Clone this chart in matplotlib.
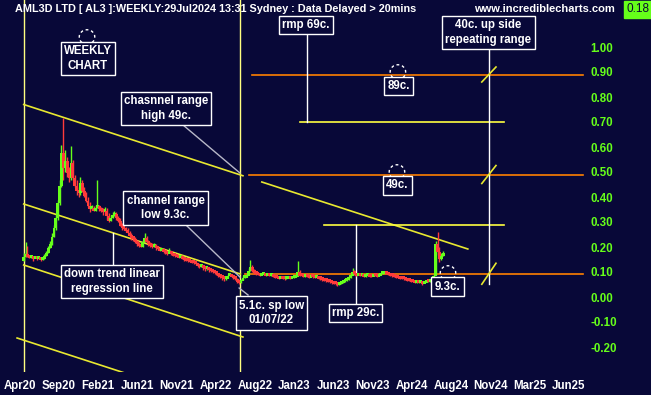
import numpy as np
import matplotlib
matplotlib.use("Agg")
import matplotlib.pyplot as plt
from matplotlib.patches import Ellipse

plt.rcParams['font.family'] = ['Liberation Sans', 'DejaVu Sans']

# AML3D (AL3) semanal, primera barra = semana del 20 abr 2020
first_open = 0.15
close = [0.165, 0.17, 0.165, 0.16, 0.162, 0.158, 0.16, 0.155, 0.157, 0.152,
         0.156, 0.168, 0.18, 0.2, 0.215, 0.245, 0.28, 0.32, 0.38, 0.45,
         0.58, 0.52, 0.55, 0.5, 0.48, 0.54, 0.48, 0.45, 0.43, 0.42,
         0.46, 0.43, 0.41, 0.39, 0.37, 0.355, 0.36, 0.35, 0.36, 0.365,
         0.355, 0.35, 0.345, 0.35, 0.33, 0.31, 0.32, 0.33, 0.335, 0.32,
         0.31, 0.29, 0.28, 0.275, 0.27, 0.26, 0.25, 0.24, 0.235, 0.225,
         0.215, 0.21, 0.205, 0.225, 0.24, 0.225, 0.215, 0.21, 0.205, 0.21,
         0.2, 0.195, 0.19, 0.192, 0.185, 0.18, 0.178, 0.182, 0.175, 0.17,
         0.168, 0.165, 0.16, 0.165, 0.158, 0.152, 0.15, 0.148, 0.145, 0.142,
         0.14, 0.135, 0.13, 0.125, 0.128, 0.12, 0.115, 0.118, 0.112, 0.108,
         0.104, 0.1, 0.095, 0.09, 0.085, 0.08, 0.075, 0.078, 0.088, 0.092,
         0.085, 0.08, 0.075, 0.065, 0.06, 0.07, 0.08, 0.082, 0.09, 0.11,
         0.125, 0.11, 0.1, 0.095, 0.092, 0.09, 0.093, 0.095, 0.09, 0.092,
         0.088, 0.09, 0.085, 0.082, 0.08, 0.078, 0.08, 0.078, 0.075, 0.078,
         0.08, 0.078, 0.08, 0.082, 0.085, 0.105, 0.09, 0.088, 0.085, 0.088,
         0.085, 0.082, 0.085, 0.083, 0.08, 0.082, 0.078, 0.075, 0.072, 0.07,
         0.068, 0.066, 0.063, 0.06, 0.058, 0.055, 0.052, 0.056, 0.06, 0.065,
         0.068, 0.072, 0.08, 0.09, 0.105, 0.095, 0.09, 0.092, 0.088, 0.09,
         0.085, 0.088, 0.09, 0.086, 0.085, 0.09, 0.088, 0.085, 0.09, 0.095,
         0.098, 0.1, 0.096, 0.093, 0.09, 0.087, 0.085, 0.082, 0.08, 0.078,
         0.077, 0.075, 0.072, 0.07, 0.068, 0.066, 0.065, 0.062, 0.064, 0.06,
         0.062, 0.058, 0.062, 0.065, 0.063, 0.068, 0.072, 0.09, 0.215, 0.185,
         0.155, 0.17, 0.18]
high = [0.175, 0.22, 0.205, 0.17, 0.168, 0.166, 0.165, 0.164, 0.162, 0.16,
        0.16, 0.172, 0.185, 0.205, 0.225, 0.255, 0.29, 0.33, 0.39, 0.47,
        0.61, 0.716, 0.59, 0.56, 0.52, 0.605, 0.55, 0.49, 0.47, 0.44,
        0.48, 0.47, 0.44, 0.42, 0.4, 0.38, 0.37, 0.365, 0.37, 0.47,
        0.37, 0.36, 0.355, 0.36, 0.355, 0.335, 0.33, 0.34, 0.345, 0.34,
        0.325, 0.315, 0.295, 0.285, 0.28, 0.275, 0.265, 0.255, 0.245, 0.24,
        0.23, 0.22, 0.215, 0.23, 0.255, 0.245, 0.23, 0.22, 0.215, 0.215,
        0.212, 0.205, 0.2, 0.197, 0.195, 0.19, 0.183, 0.195, 0.185, 0.178,
        0.174, 0.17, 0.168, 0.17, 0.168, 0.16, 0.156, 0.153, 0.15, 0.148,
        0.145, 0.143, 0.138, 0.133, 0.132, 0.13, 0.123, 0.122, 0.12, 0.115,
        0.11, 0.106, 0.102, 0.097, 0.092, 0.087, 0.082, 0.082, 0.092, 0.097,
        0.094, 0.087, 0.082, 0.077, 0.068, 0.073, 0.083, 0.086, 0.095, 0.115,
        0.148, 0.13, 0.112, 0.102, 0.097, 0.094, 0.096, 0.098, 0.096, 0.094,
        0.093, 0.093, 0.091, 0.087, 0.084, 0.082, 0.082, 0.081, 0.08, 0.08,
        0.082, 0.081, 0.082, 0.084, 0.088, 0.145, 0.107, 0.092, 0.09, 0.09,
        0.089, 0.087, 0.088, 0.086, 0.085, 0.084, 0.083, 0.08, 0.077, 0.074,
        0.072, 0.07, 0.068, 0.065, 0.062, 0.06, 0.057, 0.058, 0.062, 0.067,
        0.07, 0.074, 0.083, 0.095, 0.116, 0.107, 0.097, 0.095, 0.093, 0.092,
        0.091, 0.09, 0.092, 0.091, 0.088, 0.092, 0.091, 0.089, 0.092, 0.097,
        0.1, 0.103, 0.101, 0.097, 0.094, 0.091, 0.088, 0.086, 0.083, 0.081,
        0.079, 0.078, 0.076, 0.073, 0.071, 0.069, 0.067, 0.066, 0.066, 0.065,
        0.064, 0.063, 0.064, 0.067, 0.066, 0.07, 0.074, 0.095, 0.225, 0.26,
        0.2, 0.175, 0.185]
low = [0.145, 0.16, 0.16, 0.155, 0.156, 0.146, 0.155, 0.15, 0.152, 0.146,
       0.15, 0.154, 0.165, 0.178, 0.195, 0.21, 0.24, 0.27, 0.31, 0.37,
       0.44, 0.47, 0.5, 0.48, 0.46, 0.47, 0.47, 0.44, 0.41, 0.4,
       0.41, 0.42, 0.4, 0.38, 0.36, 0.34, 0.35, 0.345, 0.345, 0.355,
       0.345, 0.34, 0.33, 0.34, 0.31, 0.3, 0.305, 0.315, 0.325, 0.31,
       0.3, 0.285, 0.27, 0.27, 0.26, 0.255, 0.24, 0.23, 0.225, 0.215,
       0.205, 0.2, 0.2, 0.2, 0.22, 0.215, 0.205, 0.2, 0.198, 0.2,
       0.19, 0.19, 0.185, 0.186, 0.178, 0.172, 0.17, 0.175, 0.168, 0.165,
       0.162, 0.16, 0.155, 0.157, 0.152, 0.146, 0.145, 0.142, 0.14, 0.136,
       0.134, 0.128, 0.12, 0.118, 0.12, 0.11, 0.105, 0.11, 0.1, 0.1,
       0.096, 0.094, 0.088, 0.082, 0.075, 0.07, 0.065, 0.07, 0.075, 0.085,
       0.08, 0.074, 0.068, 0.056, 0.051, 0.058, 0.068, 0.076, 0.08, 0.088,
       0.105, 0.1, 0.092, 0.088, 0.088, 0.086, 0.088, 0.09, 0.086, 0.087,
       0.084, 0.085, 0.08, 0.078, 0.075, 0.072, 0.075, 0.074, 0.07, 0.072,
       0.075, 0.074, 0.076, 0.078, 0.08, 0.083, 0.086, 0.084, 0.08, 0.082,
       0.08, 0.076, 0.08, 0.078, 0.075, 0.077, 0.072, 0.07, 0.066, 0.064,
       0.062, 0.06, 0.056, 0.054, 0.052, 0.05, 0.046, 0.05, 0.054, 0.058,
       0.062, 0.066, 0.07, 0.077, 0.088, 0.09, 0.085, 0.087, 0.083, 0.085,
       0.08, 0.082, 0.085, 0.082, 0.08, 0.083, 0.084, 0.08, 0.083, 0.088,
       0.093, 0.096, 0.092, 0.089, 0.085, 0.082, 0.08, 0.077, 0.075, 0.073,
       0.072, 0.07, 0.067, 0.065, 0.063, 0.061, 0.06, 0.057, 0.058, 0.055,
       0.056, 0.05, 0.056, 0.06, 0.059, 0.061, 0.066, 0.07, 0.088, 0.17,
       0.14, 0.15, 0.165]

xtick_labels = ['Apr20', 'Sep20', 'Feb21', 'Jun21', 'Nov21', 'Apr22', 'Aug22',
                'Jan23', 'Jun23', 'Nov23', 'Apr24', 'Aug24', 'Nov24', 'Mar25', 'Jun25']
title = "AML3D LTD [ AL3 ]:WEEKLY:29Jul2024 13:31 Sydney : Data Delayed > 20mins"
last_price = "0.18"

# niveles horizontales dibujados a mano (precio, semana inicio, semana fin)
orange_levels = [(0.89, 120.8, 296), (0.49, 119.2, 296), (0.093, 117, 296)]
yellow_levels = [(0.70, 146, 254), (0.29, 159, 254)]
# canal de tendencia bajista (semana, precio) -> (semana, precio)
channel = [((0, 0.77), (116, 0.485)), ((126, 0.46), (235, 0.192)),
           ((0, 0.372), (114.6, 0.092)),
           ((0, 0.128), (116, -0.16)),
           ((-3.5, -0.164), (60, -0.32))]
low_week = 114.4   # 01/07/22

BG = '#080838'
GREEN = '#66ff1a'
RED = '#ff3b3b'
YEL = '#e8e830'
ORANGE = '#ff7f00'
WHITE = 'white'

fig = plt.figure(figsize=(6.51, 3.95), dpi=100, facecolor=BG)
ax = fig.add_axes([0, 23/395, 585/651, 372/395], facecolor=BG)
ax.set_xlim(-12.54, 297)
ax.set_ylim(-0.30, 1.188)
for s in ax.spines.values():
    s.set_visible(False)

# velas
c = np.array(close)
o = np.r_[first_open, c[:-1]]
w = np.arange(len(c))
col = np.where(c >= o, GREEN, RED)
ax.vlines(w, low, high, colors=col, lw=1, zorder=3)
ax.bar(w, np.maximum(np.abs(c - o), 0.012), bottom=np.minimum(o, c) - 0.004,
       width=1.5, color=col, lw=0, zorder=3, antialiased=False)

# lineas verticales amarillas
for xv in [0, low_week]:
    ax.axvline(xv, color='#ffff80', lw=1, zorder=2)

# canal
for (x0, y0), (x1, y1) in channel:
    ax.plot([x0, x1], [y0, y1], color=YEL, lw=1.2, zorder=2)

for y, x0, x1 in orange_levels:
    ax.plot([x0, x1], [y, y], color=ORANGE, lw=1.2, zorder=2)
for y, x0, x1 in yellow_levels:
    ax.plot([x0, x1], [y, y], color='#ffff40', lw=1.2, zorder=2)

# lineas blancas de medicion
ax.plot([150, 150], [0.70, 1.056], color=WHITE, lw=1, zorder=2)
ax.plot([176, 176], [0.29, -0.028], color=WHITE, lw=1, zorder=2)
ax.plot([246, 246], [0.052, 0.992], color=WHITE, lw=1, zorder=2)
ax.plot([47.3, 47.3], [0.128, 0.256], color=WHITE, lw=1, zorder=2)
for y, d in [(0.89, 0.03), (0.49, 0.036), (0.093, 0.042)]:
    ax.plot([246 - 3.6, 246 + 3.9], [y - d, y + d], color=YEL, lw=1.2, zorder=4)

# punteros grises
for (x0, y0), (x1, y1) in [((84.3, 0.688), (114.4, 0.496)),
                           ((85.3, 0.292), (114.4, 0.08)),
                           ((118.7, 0.008), (114, 0.036))]:
    ax.plot([x0, x1], [y0, y1], color='#b8b8c8', lw=1, zorder=2)

# circulos punteados
for cx, cy in [(33.5, 1.04), (198, 0.90), (197.5, 0.50), (224.5, 0.096)]:
    ax.add_patch(Ellipse((cx, cy), 8.2, 0.058, fill=False, ec=WHITE, lw=1,
                         ls=(0, (2, 2)), zorder=5))
    ax.plot([cx, cx], [cy - 0.03, cy - 0.045], color=WHITE, lw=1, zorder=5)

# cajas de texto
notes = [("WEEKLY\nCHART", 34, 0.954), ("rmp 69c.", 149.4, 1.088),
         ("89c.", 198.3, 0.844), ("40c. up side\nrepeating range", 245.9, 1.058),
         ("chasnnel range\nhigh 49c.", 75.3, 0.754), ("49c.", 197.8, 0.446),
         ("channel range\nlow 9.3c.", 75, 0.356),
         ("down trend linear\nregression line", 46.7, 0.062),
         ("5.1c. sp low\n01/07/22", 131.1, -0.064), ("rmp 29c.", 175.6, -0.064),
         ("9.3c.", 224.2, 0.042)]
for txt, x, y in notes:
    ax.text(x, y, txt, color=WHITE, fontsize=8.3, fontweight='bold', ha='center',
            va='center', linespacing=1.3, zorder=6,
            bbox=dict(boxstyle='square,pad=0.28', fc=BG, ec=WHITE, lw=1))

# ejes
ax.yaxis.tick_right()
ax.set_yticks(np.round(np.arange(-0.2, 1.01, 0.1), 2))
ax.set_yticklabels([f"{v:.2f}" for v in np.arange(-0.2, 1.01, 0.1)])
ax.tick_params(axis='y', length=0, pad=4, labelcolor=GREEN, labelsize=8.3)
for t in ax.get_yticklabels():
    t.set_fontweight('bold')
ax.set_xticks(-2 + 20.74 * np.arange(len(xtick_labels)))
ax.set_xticklabels(xtick_labels)
ax.tick_params(axis='x', length=0, pad=6, labelcolor=WHITE, labelsize=8.3)
for t in ax.get_xticklabels():
    t.set_fontweight('bold')

fig.text(15/651, 1 - 9/395, title, color=WHITE, fontsize=7.8, fontweight='bold',
         ha='left', va='center')
fig.text(474/651, 1 - 9/395, "www.incrediblecharts.com", color=WHITE, fontsize=8,
         fontweight='bold', ha='left', va='center')
fig.text(638/651, 1 - 9.5/395, last_price, color='#0a0a30', fontsize=8.5,
         ha='center', va='center',
         bbox=dict(boxstyle='square,pad=0.2', fc=GREEN, ec=GREEN))

fig.savefig("out.png", dpi=100, facecolor=BG)
